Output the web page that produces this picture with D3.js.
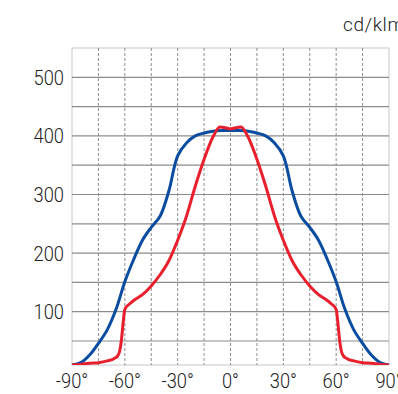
<!DOCTYPE html>
<html><head><meta charset="utf-8">
<script src="https://cdn.jsdelivr.net/npm/d3@7"></script>
<style>body{margin:0;background:#fff}svg{display:block}</style>
</head><body>
<script>
const angles = [-90,-85,-80,-75,-70,-66,-64,-63,-62,-61,-60,-57,-55,-50,-45,-40,-35,-30,-25,-20,-15,-10,-6,-3,0,3,6,10,15,20,25,30,35,40,45,50,55,57,60,61,62,63,64,66,70,75,80,85,90];
const redValues = [9,10,12,13,16,20,25,32,50,80,104,114,119,129,144,163,187,222,263,314,360,398,415,414,412,414,415,398,360,314,263,222,187,163,144,129,119,114,104,80,50,32,25,20,16,13,12,10,9];
const blueAngles = [-90,-85,-80,-75,-70,-65,-60,-55,-50,-45,-40,-35,-30,-25,-20,-15,-10,-5,0,5,10,15,20,25,30,35,40,45,50,55,60,65,70,75,80,85,90];
const blueValues = [9,13,26,46,69,104,151,189,222,244,263,306,366,388,400,405,408,409,409,409,408,405,400,388,366,306,263,244,222,189,151,104,69,46,26,13,9];
const xTicks = [-90,-60,-30,0,30,60,90];
const yTicks = [100,200,300,400,500];
const gridY = [50,100,150,200,250,300,350,400,450,500];
const gridX = [-75,-60,-45,-30,-15,0,15,30,45,60,75];
const unitLabel = "cd/klm";

const W=398,H=394, L=72,R=389,T=48,B=365;
const svg=d3.select("body").append("svg").attr("width",W).attr("height",H);
const x=d3.scaleLinear().domain([-90,90]).range([L,R]);
const y=d3.scaleLinear().domain([9,550]).range([B,T]);

svg.append("rect").attr("x",L).attr("y",T).attr("width",R-L).attr("height",B-T)
  .attr("fill","none").attr("stroke","#c8c8c8").attr("stroke-width",1);
svg.append("g").selectAll("line").data(gridY).join("line")
  .attr("x1",L).attr("x2",R).attr("y1",d=>y(d)).attr("y2",d=>y(d))
  .attr("stroke","#8c8c8c").attr("stroke-width",1.2);
svg.append("g").selectAll("line").data(gridX).join("line")
  .attr("x1",d=>x(d)).attr("x2",d=>x(d)).attr("y1",T).attr("y2",B)
  .attr("stroke","#8c8c8c").attr("stroke-width",1).attr("stroke-dasharray","3,2");

svg.append("defs").append("clipPath").attr("id","c").append("rect")
  .attr("x",L-2).attr("y",T).attr("width",R-L+4).attr("height",B-T);

const g=svg.append("g").attr("clip-path","url(#c)");
g.append("path").attr("d",d3.line().curve(d3.curveCatmullRom.alpha(0.5))(blueAngles.map((a,i)=>[x(a),y(blueValues[i])])))
  .attr("fill","none").attr("stroke","#0a4ca0").attr("stroke-width",3).attr("stroke-linejoin","round");
g.append("path").attr("d",d3.line().curve(d3.curveMonotoneX)(angles.map((a,i)=>[x(a),y(redValues[i])])))
  .attr("fill","none").attr("stroke","#e8202e").attr("stroke-width",3).attr("stroke-linejoin","round");

const font="Roboto,sans-serif";
svg.append("g").selectAll("text").data(yTicks).join("text")
  .attr("transform",d=>`translate(64,${y(d)}) scale(0.87,1)`).attr("dy","0.36em").attr("text-anchor","end")
  .attr("font-family",font).attr("font-weight",300).attr("font-size",21).attr("fill","#222").text(d=>d);
svg.append("g").selectAll("text").data(xTicks).join("text")
  .attr("transform",d=>`translate(${x(d)},388) scale(0.87,1)`).attr("text-anchor","middle")
  .attr("font-family",font).attr("font-weight",300).attr("font-size",21).attr("fill","#222").text(d=>d+"°");
svg.append("text").attr("x",343).attr("y",31).attr("font-family",font).attr("font-weight",300)
  .attr("font-size",19).attr("letter-spacing",0.6).attr("fill","#222").text(unitLabel);
</script>
</body></html>
